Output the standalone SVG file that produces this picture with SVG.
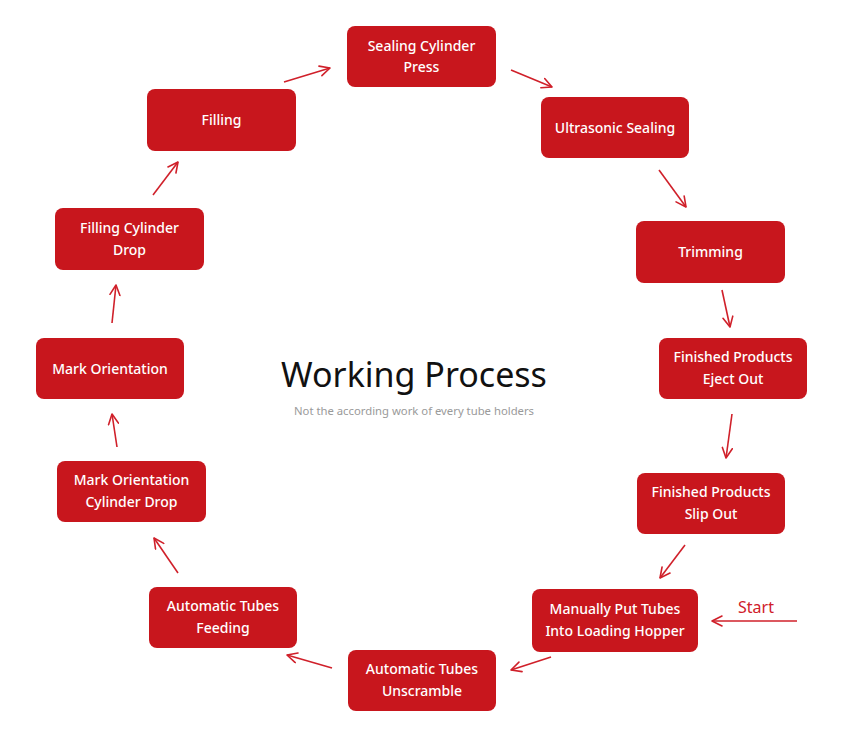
<svg xmlns="http://www.w3.org/2000/svg" width="845" height="743" viewBox="0 0 845 743">
<defs>
<marker id="ah" viewBox="0 0 12 12" refX="11" refY="6" markerWidth="12" markerHeight="12" markerUnits="userSpaceOnUse" orient="auto">
<path d="M1,1 L11,6 L1,11" fill="none" stroke="#d0202a" stroke-width="1.6" stroke-linecap="round" stroke-linejoin="round"/>
</marker>
<style>
.box{fill:#c8161d;}
.lbl{fill:#fff;font-family:"Noto Sans","Open Sans",sans-serif;font-size:14px;font-weight:500;text-anchor:middle;}
.con line{stroke:#d0202a;stroke-width:1.6;marker-end:url(#ah);}
</style>
</defs>
<rect width="845" height="743" fill="#fff"/>
<g id="sealing-cylinder-press"><rect class="box" x="347" y="26" width="149" height="61" rx="8"/><text class="lbl" x="421.5" y="51">Sealing Cylinder</text><text class="lbl" x="421.5" y="72">Press</text></g>
<g id="ultrasonic-sealing"><rect class="box" x="541" y="97" width="148" height="61" rx="8"/><text class="lbl" x="615" y="132.5">Ultrasonic Sealing</text></g>
<g id="trimming"><rect class="box" x="636" y="221" width="149" height="62" rx="8"/><text class="lbl" x="710.5" y="257">Trimming</text></g>
<g id="eject-out"><rect class="box" x="659" y="338" width="148" height="61" rx="8"/><text class="lbl" x="733" y="362">Finished Products</text><text class="lbl" x="733" y="384">Eject Out</text></g>
<g id="slip-out"><rect class="box" x="637" y="473" width="148" height="61" rx="8"/><text class="lbl" x="711" y="497">Finished Products</text><text class="lbl" x="711" y="519">Slip Out</text></g>
<g id="manually-put"><rect class="box" x="532" y="589" width="166" height="63" rx="8"/><text class="lbl" x="615" y="614">Manually Put Tubes</text><text class="lbl" x="615" y="636">Into Loading Hopper</text></g>
<g id="unscramble"><rect class="box" x="348" y="650" width="148" height="61" rx="8"/><text class="lbl" x="422" y="674">Automatic Tubes</text><text class="lbl" x="422" y="696">Unscramble</text></g>
<g id="feeding"><rect class="box" x="149" y="587" width="148" height="61" rx="8"/><text class="lbl" x="223" y="611">Automatic Tubes</text><text class="lbl" x="223" y="633">Feeding</text></g>
<g id="mark-orientation-cylinder-drop"><rect class="box" x="57" y="461" width="149" height="61" rx="8"/><text class="lbl" x="131.5" y="485">Mark Orientation</text><text class="lbl" x="131.5" y="507">Cylinder Drop</text></g>
<g id="mark-orientation"><rect class="box" x="36" y="338" width="148" height="61" rx="8"/><text class="lbl" x="110" y="373.5">Mark Orientation</text></g>
<g id="filling-cylinder-drop"><rect class="box" x="55" y="208" width="149" height="62" rx="8"/><text class="lbl" x="129.5" y="233">Filling Cylinder</text><text class="lbl" x="129.5" y="255">Drop</text></g>
<g id="filling"><rect class="box" x="147" y="89" width="149" height="62" rx="8"/><text class="lbl" x="221.5" y="125">Filling</text></g>
<g id="connectors" class="con">
<line x1="284" y1="82" x2="330" y2="68"/>
<line x1="511" y1="70" x2="552" y2="87"/>
<line x1="659" y1="170" x2="686" y2="207"/>
<line x1="722" y1="290" x2="730" y2="327"/>
<line x1="732" y1="414" x2="726" y2="458"/>
<line x1="685" y1="545" x2="660" y2="578"/>
<line x1="797" y1="621" x2="712" y2="621"/>
<line x1="551" y1="657" x2="511" y2="670"/>
<line x1="332" y1="668" x2="287" y2="655"/>
<line x1="178" y1="573" x2="154" y2="538"/>
<line x1="117" y1="447" x2="112" y2="414"/>
<line x1="112" y1="323" x2="116" y2="285"/>
<line x1="153" y1="195" x2="178" y2="162"/>
</g>
<text x="756" y="613" font-family="Noto Sans, Open Sans, sans-serif" font-size="16" fill="#d0202a" text-anchor="middle">Start</text>
<text x="414" y="387" font-family="Noto Sans, Open Sans, sans-serif" font-size="34" fill="#111" text-anchor="middle">Working Process</text>
<text x="414" y="415" font-family="Noto Sans, Open Sans, sans-serif" font-size="11.3" fill="#9a9a9a" text-anchor="middle">Not the according work of every tube holders</text>
</svg>
